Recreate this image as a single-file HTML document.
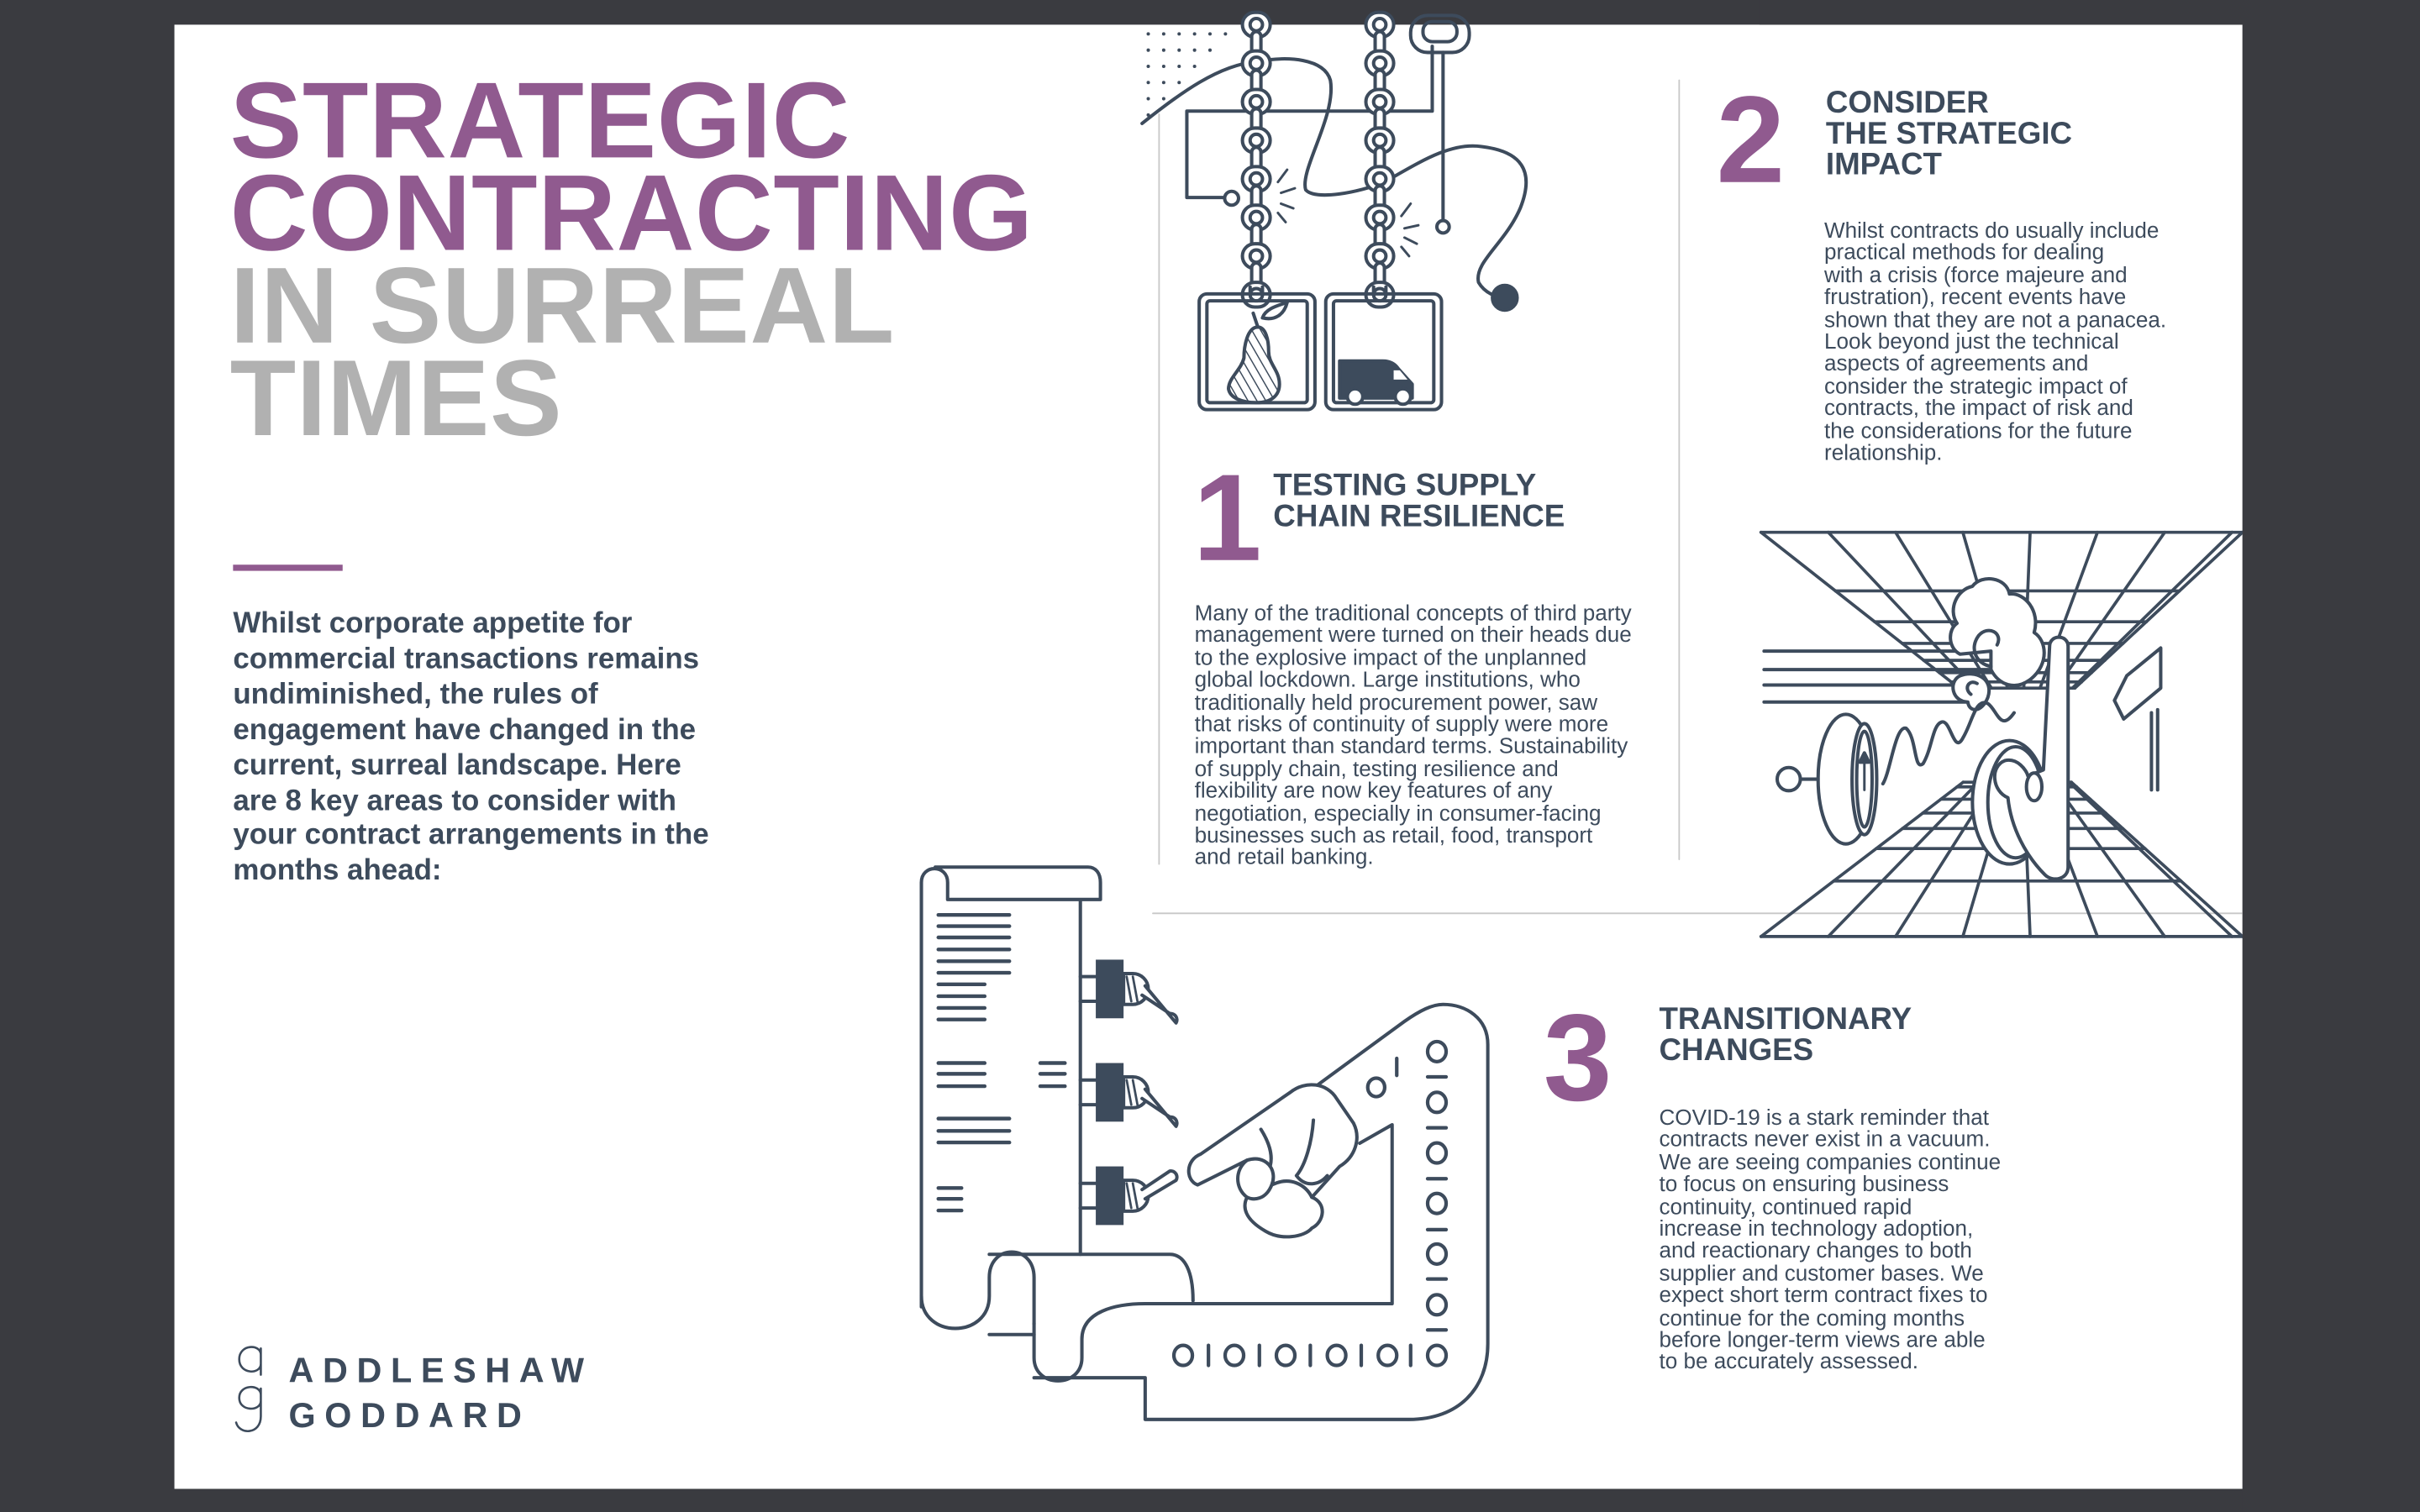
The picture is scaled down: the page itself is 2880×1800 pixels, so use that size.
<!DOCTYPE html>
<html><head><meta charset="utf-8">
<style>
html,body{margin:0;padding:0;background:#3a3b40;width:2880px;height:1800px;overflow:hidden}
#w{position:absolute;left:0;top:0;width:1568px;height:980px;transform:scale(1.836735);transform-origin:0 0}
#pg{position:absolute;left:113px;top:16px;width:1340px;height:949px;background:#fff}
.t{position:absolute;font-family:"Liberation Sans",sans-serif;color:#3d4b5c;white-space:nowrap}
.ti{font-weight:bold;font-size:70px;line-height:60px;left:149px;top:48px;letter-spacing:0.3px}
.p{color:#905a8f}.g{color:#b1b1b1}
.big{font-weight:bold;font-size:80px;line-height:80px;color:#905a8f}
.h{font-weight:bold;font-size:20px;line-height:20px;letter-spacing:0}
.b{font-size:14.2px;line-height:14.4px}
</style></head><body>
<div id="w">
<div id="pg"></div>
<svg id="s" width="1568" height="980" style="position:absolute;left:0;top:0" fill="none" stroke="#3d4b5c" stroke-width="2.2" stroke-linecap="round" stroke-linejoin="round">
<line x1="751" y1="74" x2="751" y2="560" stroke="#c8c8c8" stroke-width="1"/>
<line x1="1088" y1="52" x2="1088" y2="557" stroke="#c8c8c8" stroke-width="1"/>
<line x1="747" y1="592" x2="1453" y2="592" stroke="#c8c8c8" stroke-width="1"/>
<rect x="151" y="366" width="71" height="4" fill="#905a8f" stroke="none"/>
<g id="dots" fill="#3d4b5c" stroke="none"></g>
<path d="M740 80 C 765 60, 790 42, 814 40 C 835 36, 858 38, 862 52 C 866 75, 842 110, 846 123 C 852 130, 880 125, 897 118 C 920 105, 940 92, 960 95 C 985 98, 995 110, 985 135 C 975 158, 955 170, 958 183 C 962 190, 970 193, 975 193"/>
<circle cx="975" cy="193" r="8" fill="#3d4b5c"/>
<polyline points="928,30 928,72 769,72 769,128 793,128"/>
<circle cx="798" cy="128.5" r="4.5" fill="#fff"/>
<rect x="914" y="10" width="38" height="24" rx="11"/>
<rect x="922" y="14" width="22" height="13" rx="6"/>
<line x1="935" y1="34" x2="935" y2="143"/>
<circle cx="935" cy="147" r="4" fill="#fff"/>
<g id="chains"></g>
<g stroke-width="1.6">
<path d="M828 118 l6 -8 M830 125 l9 -3 M830 132 l8 3 M828 138 l5 6"/>
<path d="M908 140 l6 -8 M910 148 l9 -2 M910 154 l8 4 M908 160 l5 6"/>
</g>
<rect x="777" y="190.5" width="75" height="75" rx="5"/>
<rect x="782" y="195" width="65" height="66" rx="2"/>
<rect x="859" y="190.5" width="75" height="75" rx="5"/>
<rect x="864" y="195" width="65" height="66" rx="2"/>
<defs><pattern id="hatch" width="5" height="5" patternUnits="userSpaceOnUse" patternTransform="rotate(-30)"><line x1="0" y1="0" x2="0" y2="5" stroke="#3d4b5c" stroke-width="1.6"/></pattern></defs>
<path d="M815 212 C 808 212, 806 225, 806 232 C 804 240, 796 245, 796 252 C 797 258, 805 261, 814 261 C 824 261, 829 256, 829 249 C 829 240, 822 236, 822 228 C 822 220, 820 212, 815 212 Z" fill="url(#hatch)"/>
<path d="M815 212 l-3 -9 M818 206 C 820 200, 828 198, 834 196 C 832 204, 826 208, 818 206 Z"/>
<path d="M868 234 h28 c5 0 8 2 10 5 l9 10 v9 h-47 z" fill="#3d4b5c"/>
<path d="M903 240 h4 l5 6 h-9 z" fill="#fff" stroke="none"/>
<circle cx="878" cy="257" r="5" fill="#fff"/><circle cx="909" cy="257" r="5" fill="#fff"/>
<g id="room" stroke-width="2"></g>
<g stroke-width="2.2">
<line x1="1143" y1="422" x2="1290" y2="422"/>
<line x1="1143" y1="434" x2="1290" y2="434"/>
<line x1="1143" y1="444" x2="1275" y2="444"/>
<line x1="1143" y1="455" x2="1275" y2="455"/>
</g>
<path d="M1270 424 C 1262 420, 1262 408, 1268 404 C 1262 395, 1268 382, 1278 380 C 1284 372, 1300 374, 1302 385 C 1312 384, 1322 396, 1318 410 C 1326 415, 1328 430, 1316 440 C 1306 448, 1295 444, 1290 434 L 1290 422 Z" fill="#fff"/>
<path d="M1290 432 C 1280 430, 1276 420, 1282 412 C 1288 405, 1298 410, 1294 418"/>
<path d="M1275 455 C 1265 455, 1262 442, 1270 438 C 1280 434, 1292 440, 1288 452 C 1284 462, 1276 462, 1275 455 Z" fill="#fff"/>
<path d="M1277 450 C 1272 446, 1276 440, 1281 443"/>
<path d="M1220 508 C 1225 500, 1228 470, 1235 472 C 1242 478, 1240 500, 1246 495 C 1252 485, 1252 470, 1258 468 C 1264 466, 1266 490, 1272 478 C 1278 468, 1280 452, 1288 456 C 1294 460, 1296 475, 1305 462"/>
<ellipse cx="1196" cy="505" rx="18" ry="42" fill="#fff"/>
<ellipse cx="1208" cy="505" rx="8" ry="36" fill="#fff"/>
<ellipse cx="1208" cy="505" rx="5" ry="31"/>
<path d="M1208 490 v22" stroke-width="1.6"/><path d="M1205 494 l3 -6 l3 6 z" fill="#3d4b5c"/>
<line x1="1166" y1="505" x2="1178" y2="505"/>
<circle cx="1159" cy="505" r="7.5" fill="#fff"/>
<ellipse cx="1302" cy="520" rx="24" ry="40" fill="#fff"/>
<ellipse cx="1306" cy="520" rx="18" ry="36" fill="#fff"/>
<path d="M1328 419 c0 -8 12 -8 12 0 v143 c0 8 -10 10 -15 5 c-12 -12 -22 -30 -24 -50 c-10 -4 -12 -20 -2 -24 c8 -2 14 6 15 10 l10 -4 z" fill="#fff"/>
<ellipse cx="1318" cy="510" rx="5" ry="9" fill="#fff"/>
<path d="M1376 466 l-6 -12 l8 -16 l22 -18 v26 z" fill="#fff"/>
<path d="M1394 462 v50 M1398 460 v52"/>
<path d="M700 583 V813 M597 847 V572 C597 560 614 560 614 572 V583 H713 V572 C713 566 710 562 705 562 H606"/>
<path d="M597 840 C597 868 641 868 641 840 V828 C641 806 670 806 670 828 V858 M641 865 H670"/>
<path d="M641 813 H758 C768 813 773 825 773 843"/>
<path d="M670 858 V880 C670 900 701 900 701 880 V868 C701 850 723 845 742 845 H902 V729 L881 741"/>
<path d="M670 893 H742 V920 H913 C945 920 964 900 964 871 V677 C964 660 950 651 935 651 C928 651 920 655 910 662 L854 703"/>
<g id="txl" stroke-width="2.4"></g>
<g id="sw"></g>
<path d="M776 768 C 768 765, 768 752, 778 748 L 836 708 C 846 700, 860 702, 866 712 L 877 728 C 882 738, 878 750, 868 756 L 850 776 C 860 780, 858 792, 850 796 C 845 802, 830 804, 820 798 C 806 790, 805 782, 808 776 C 800 770, 800 758, 808 752 Z" fill="#fff"/>
<path d="M808 752 C 820 748, 828 758, 824 768 C 820 778, 812 778, 808 776 M824 768 C 836 762, 846 768, 850 776 M851 726 C 850 740, 846 755, 840 762 C 846 770, 855 768, 860 762 M817 732 C 822 740, 825 748, 823 756"/>
<g id="bin" stroke-width="2.3"></g>
<g stroke-width="1.4">
<path d="M169 878 C169 871 155 871 155 881 C155 891 169 891 169 884 M169 874 V891"/>
<path d="M169 904 C169 897 155 897 155 906 C155 915 169 915 169 908 M169 900 V918 C169 930 155 930 153 922"/>
</g>
<rect x="1453" y="0" width="115" height="980" fill="#3a3b40" stroke="none"/>
<rect x="1140" y="0" width="330" height="16" fill="#3a3b40" stroke="none"/>
</svg>

<div class="t ti"><span class="p">STRATEGIC<br>CONTRACTING</span><br><span class="g">IN SURREAL<br>TIMES</span></div>
<div class="t" style="left:151px;top:394px;font-weight:bold;font-size:19px;line-height:22.9px">Whilst corporate appetite for<br>commercial transactions remains<br>undiminished, the rules of<br>engagement have changed in the<br>current, surreal landscape. Here<br>are 8 key areas to consider with<br>your contract arrangements in the<br>months ahead:</div>
<div class="t" style="left:187px;top:874px;font-weight:bold;font-size:22.5px;line-height:29px;letter-spacing:5.8px">ADDLESHAW<br>GODDARD</div>

<div class="t big" style="left:773px;top:296px">1</div>
<div class="t h" style="left:825px;top:305px">TESTING SUPPLY<br>CHAIN RESILIENCE</div>
<div class="t b" style="left:774px;top:391px">Many of the traditional concepts of third party<br>management were turned on their heads due<br>to the explosive impact of the unplanned<br>global lockdown. Large institutions, who<br>traditionally held procurement power, saw<br>that risks of continuity of supply were more<br>important than standard terms. Sustainability<br>of supply chain, testing resilience and<br>flexibility are now key features of any<br>negotiation, especially in consumer-facing<br>businesses such as retail, food, transport<br>and retail banking.</div>

<div class="t big" style="left:1112px;top:51px">2</div>
<div class="t h" style="left:1183px;top:57px">CONSIDER<br>THE STRATEGIC<br>IMPACT</div>
<div class="t b" style="left:1182px;top:143px">Whilst contracts do usually include<br>practical methods for dealing<br>with a crisis (force majeure and<br>frustration), recent events have<br>shown that they are not a panacea.<br>Look beyond just the technical<br>aspects of agreements and<br>consider the strategic impact of<br>contracts, the impact of risk and<br>the considerations for the future<br>relationship.</div>

<div class="t big" style="left:1000px;top:646px">3</div>
<div class="t h" style="left:1075px;top:651px">TRANSITIONARY<br>CHANGES</div>
<div class="t b" style="left:1075px;top:718px">COVID-19 is a stark reminder that<br>contracts never exist in a vacuum.<br>We are seeing companies continue<br>to focus on ensuring business<br>continuity, continued rapid<br>increase in technology adoption,<br>and reactionary changes to both<br>supplier and customer bases. We<br>expect short term contract fixes to<br>continue for the coming months<br>before longer-term views are able<br>to be accurately assessed.</div>
</div>
<script>
var NS="http://www.w3.org/2000/svg";
function el(p,t,a){var e=document.createElementNS(NS,t);for(var k in a)e.setAttribute(k,a[k]);document.getElementById(p).appendChild(e);return e;}
for(var y=22;y<80;y+=10.5)for(var x=744;x<802;x+=10){ if((x-740)+(y-16)*0.95<62) el("dots","circle",{cx:x,cy:y,r:1.1}); }
[814,894].forEach(function(cx){for(var y=8;y<186;y+=12.5){var i=Math.round((y-8)/12.5);
 if(i%2==0){el("chains","rect",{x:cx-9,y:y,width:18,height:16,rx:8,fill:"#fff"});el("chains","rect",{x:cx-4,y:y+4,width:8,height:8,rx:4});}
 else{el("chains","rect",{x:cx-3,y:y,width:6,height:16,rx:3,fill:"#fff"});}}
 el("chains","line",{x1:cx-4,y1:186,x2:cx-4,y2:191});el("chains","line",{x1:cx+4,y1:186,x2:cx+4,y2:191});});
var VX=1310,VY=478;
function ix(x,y0,y){return VX+(x-VX)*(VY-y)/(VY-y0);}
var xs=[];for(var k=0;k<=7;k++)xs.push(1141+k*43.6);xs.push(1453);
el("room","line",{x1:1141,y1:345,x2:1453,y2:345});
el("room","line",{x1:1141,y1:607,x2:1453,y2:607});
xs.forEach(function(x){el("room","line",{x1:x,y1:345,x2:ix(x,345,446),y2:446});el("room","line",{x1:x,y1:607,x2:ix(x,607,507),y2:507});});
[383,403,417,428,436,442,446].forEach(function(y){el("room","line",{x1:ix(1141,345,y),y1:y,x2:ix(1453,345,y),y2:y});});
[507,510,518,527,537,550,571].forEach(function(y){el("room","line",{x1:ix(1141,607,y),y1:y,x2:ix(1453,607,y),y2:y});});
var L=[[593,608,654],[600.3,608,654],[607.6,608,654],[615.4,608,654],[623,608,654],[630.5,608,654],[638,608,638],[645.7,608,638],[653.3,608,638],[660.8,608,638],
[689,608,638],[696,608,638],[704,608,638],[689,674,690],[696,674,690],[704,674,690],[725,608,654],[733,608,654],[740.5,608,654],[770,608,623],[777,608,623],[784.6,608,623]];
L.forEach(function(l){el("txl","line",{x1:l[1],y1:l[0],x2:l[2],y2:l[0]});});
[[622,-1],[689,-1],[756,1]].forEach(function(s){var y=s[0];
 el("sw","line",{x1:700,y1:y+11,x2:710,y2:y+11});el("sw","line",{x1:700,y1:y+27,x2:710,y2:y+27});
 el("sw","rect",{x:710,y:y,width:18,height:38,fill:"#3d4b5c",stroke:"none"});
 var cy=y+19;
 el("sw","path",{d:"M728 "+(cy-10)+" h6 a10 10 0 0 1 0 20 h-6 z",fill:"#fff"});
 el("sw","path",{d:"M730 "+(cy-8)+" l3 16 M734 "+(cy-8)+" l3 16","stroke-width":1.5});
 var d=s[1];
 el("sw","path",{d:"M740 "+(cy+d*-4)+" L758 "+(cy+d*-16)+" a4 4 0 0 1 4 6 L742 "+(cy+d*2),fill:"#fff"});
});
var vy=[681.6,714.5,747.3,780,812.8,845.7,878.5];
vy.forEach(function(y){el("bin","ellipse",{cx:931,cy:y,rx:6,ry:6.5});});
[698,731,764,797,829,862].forEach(function(y){el("bin","line",{x1:925,y1:y,x2:937,y2:y});});
[766.6,799.8,833,866,899].forEach(function(x){el("bin","ellipse",{cx:x,cy:878.5,rx:6,ry:6.5});});
[783,816,849,882,914].forEach(function(x){el("bin","line",{x1:x,y1:872,x2:x,y2:885});});
el("bin","ellipse",{cx:891.7,cy:704.8,rx:5.5,ry:6});
el("bin","line",{x1:905,y1:686,x2:905,y2:697});
</script>
</body></html>
